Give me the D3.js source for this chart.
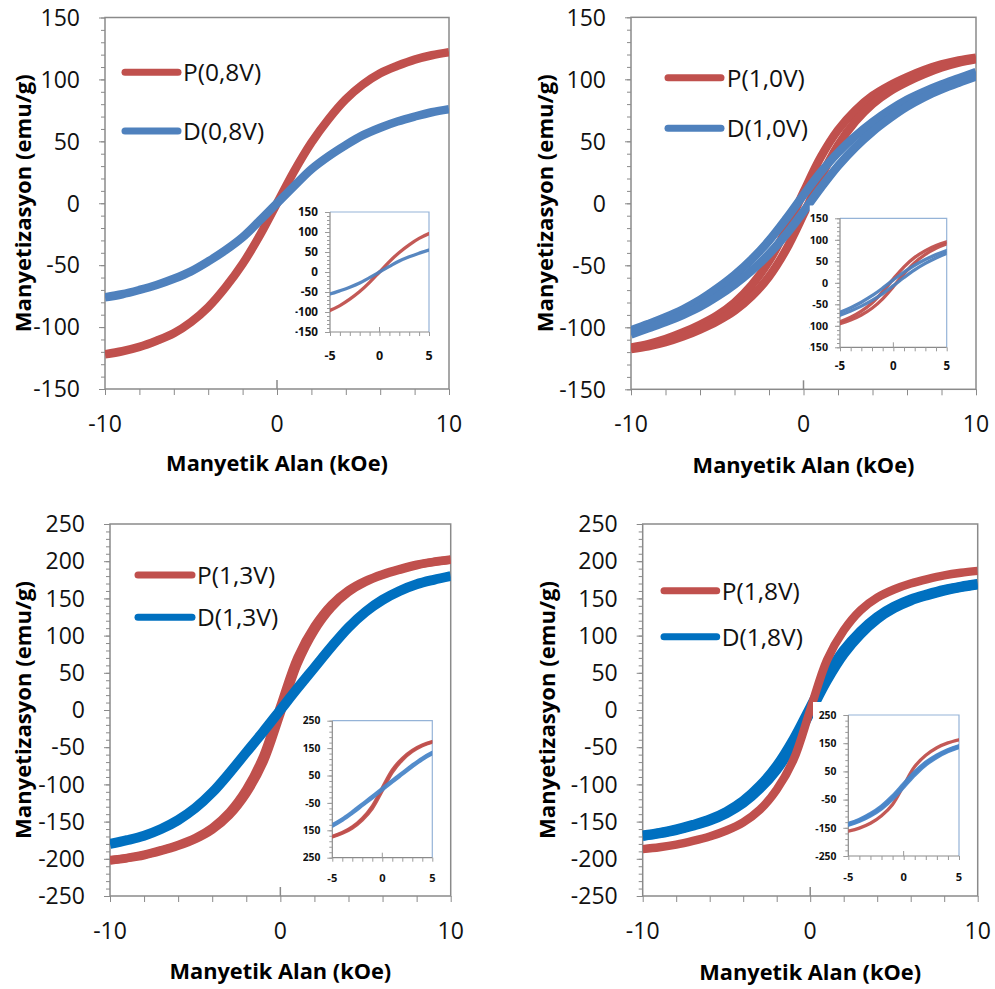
<!DOCTYPE html>
<html>
<head>
<meta charset="utf-8">
<script src="https://cdn.jsdelivr.net/npm/d3@7/dist/d3.min.js"></script>
<style>
  body { margin: 0; background: #fff; }
</style>
</head>
<body>
<div id="chart"></div>
<script>
// ---- data: field values (kOe) shared by every curve ----
const field = [-10, -9, -8, -7, -6, -5, -4, -3, -2, -1, 0, 1, 2, 3, 4, 5, 6, 7, 8, 9, 10];

// 0,8V (no visible loop)
const p08 = [-122, -119.5, -116, -111, -105, -96, -84, -68, -49, -26, 0, 26, 49, 68, 84, 96, 105, 111, 116, 119.5, 122];
const d08 = [-76, -73.5, -70, -66, -61, -55, -47, -38, -27.5, -14, 0, 14, 27.5, 38, 47, 55, 61, 66, 70, 73.5, 76];

// 1,0V (descending / ascending branches)
const p10Down = [-116.3, -113.5, -109.5, -104.2, -97.9, -90.3, -80.1, -65.9, -46.8, -21, 9, 37.2, 59.1, 74.9, 86.7, 95.1, 101.8, 107.5, 112, 115.3, 117.5];
const p10Up   = [-117.5, -115.3, -112, -107.5, -101.8, -95.1, -86.7, -74.9, -59.1, -37.2, -9, 21, 46.8, 65.9, 80.1, 90.3, 97.9, 104.2, 109.5, 113.5, 116.3];
const d10Down = [-102.3, -97.3, -91.9, -85.6, -77.9, -68.5, -57.8, -45.1, -30.1, -12.4, 6.7, 25, 40.9, 54.2, 65.5, 75.2, 83.5, 90.1, 95.8, 100.8, 105.8];
const d10Up   = [-105.8, -100.8, -95.8, -90.1, -83.5, -75.2, -65.5, -54.2, -40.9, -25, -6.7, 12.4, 30.1, 45.1, 57.8, 68.5, 77.9, 85.6, 91.9, 97.3, 102.3];

// 1,3V
const p13Down = [-201.8, -198.7, -194.5, -188.4, -181.3, -172, -158.4, -137.6, -106.6, -61.6, 5.4, 70.4, 112.4, 141.6, 161, 173.7, 182.6, 189.5, 195.3, 199.2, 202.2];
const p13Up   = [-202.2, -199.2, -195.3, -189.5, -182.6, -173.7, -161, -141.6, -112.4, -70.4, -5.4, 61.6, 106.6, 137.6, 158.4, 172, 181.3, 188.4, 194.5, 198.7, 201.8];
const d13 = [-180, -175, -169, -160, -148, -132, -111, -85, -57, -29, 0, 29, 57, 85, 111, 132, 148, 160, 169, 175, 180];

// 1,8V
const p18 = [-187, -184.5, -181, -176, -170, -162, -151, -134, -107, -67, 0, 67, 107, 134, 151, 162, 170, 176, 181, 184.5, 187];
const d18Down = [-168.7, -165.1, -160.5, -154.4, -147.2, -136.9, -122.4, -101.9, -75.2, -39.6, 3.4, 45.8, 80.1, 105.6, 125.1, 138.8, 148.6, 155.5, 161.4, 165.8, 169.3];
const d18Up   = [-169.3, -165.8, -161.4, -155.5, -148.6, -138.8, -125.1, -105.6, -80.1, -45.8, -3.4, 39.6, 75.2, 101.9, 122.4, 136.9, 147.2, 154.4, 160.5, 165.1, 168.7];

// tick labels
const xTickLabels = [-10, 0, 10];
const yTicks150 = [-150, -100, -50, 0, 50, 100, 150];
const yTicks250 = [-250, -200, -150, -100, -50, 0, 50, 100, 150, 200, 250];
const insetTicks150 = [-150, -100, -50, 0, 50, 100, 150];
const insetTicks250 = [-250, -150, -50, 50, 150, 250];
const insetXTicks = [-5, 0, 5];

const RED = '#C0504D';
const AXIS = '#8a8a8a';

const panels = [
  { series: [{ name: 'P(0,8V)', color: RED, branches: [p08] },
             { name: 'D(0,8V)', color: '#4F81BD', inColor: '#4F81BD', branches: [d08] }],
    yDomain: [-150, 150], yTicks: yTicks150, inTicks: insetTicks150, inMinor: 10,
    box: { l: 105, r: 449, t: 17.5, b: 389 },
    inset: { l: 330, r: 429, t: 212, b: 332, clipL: 295.5, fs: 11.7, xly: 355 },
    legend: { x1: 125, x2: 178, ys: [72.3, 131], tx: 183 },
    yTitleX: 23, xTitleY: 463, redOnTop: false },
  { series: [{ name: 'P(1,0V)', color: RED, branches: [p10Down, p10Up] },
             { name: 'D(1,0V)', color: '#4F81BD', inColor: '#4F81BD', branches: [d10Down, d10Up] }],
    yDomain: [-150, 150], yTicks: yTicks150, inTicks: insetTicks150, inMinor: 10,
    box: { l: 631, r: 976, t: 17.3, b: 389.3 },
    inset: { l: 840, r: 946.7, t: 218.3, b: 347.3, clipL: 809.5, fs: 10.7, xly: 366 },
    legend: { x1: 668, x2: 721, ys: [77.7, 128.3], tx: 726.7 },
    yTitleX: 545, xTitleY: 465, redOnTop: false },
  { series: [{ name: 'P(1,3V)', color: RED, branches: [p13Down, p13Up] },
             { name: 'D(1,3V)', color: '#0070C0', inColor: '#4A86C8', branches: [d13] }],
    yDomain: [-250, 250], yTicks: yTicks250, inTicks: insetTicks250, inMinor: 20,
    box: { l: 110, r: 450.7, t: 524, b: 896 },
    inset: { l: 332.3, r: 432.3, t: 720.7, b: 857.7, clipL: 303, fs: 10.3, xly: 878 },
    legend: { x1: 138, x2: 192, ys: [575, 617.3], tx: 197 },
    yTitleX: 23, xTitleY: 971, redOnTop: false },
  { series: [{ name: 'P(1,8V)', color: RED, branches: [p18] },
             { name: 'D(1,8V)', color: '#0070C0', inColor: '#4A86C8', branches: [d18Down, d18Up] }],
    yDomain: [-250, 250], yTicks: yTicks250, inTicks: insetTicks250, inMinor: 20,
    box: { l: 642.7, r: 977.7, t: 524, b: 896 },
    inset: { l: 848.3, r: 959, t: 715, b: 856, clipL: 813, fs: 10.3, xly: 877 },
    legend: { x1: 664, x2: 716.7, ys: [590.7, 636.7], tx: 721.7 },
    yTitleX: 547, xTitleY: 972, redOnTop: true }
];

const svg = d3.select('#chart').append('svg')
  .attr('width', 995)
  .attr('height', 989)
  .style('font-family', '"Open Sans", sans-serif');

const defs = svg.append('defs');

// stretch/shrink a text so its rendered length matches target
function fit(sel, target) {
  const len = sel.node().getComputedTextLength();
  const fs = parseFloat(sel.attr('font-size'));
  sel.attr('font-size', fs * target / len);
}

panels.forEach(function (p, k) {
  const g = svg.append('g');
  const b = p.box;
  const x = d3.scaleLinear().domain([-10, 10]).range([b.l, b.r]);
  const y = d3.scaleLinear().domain(p.yDomain).range([b.b, b.t]);

  defs.append('clipPath').attr('id', 'main' + k)
    .append('rect').attr('x', b.l).attr('y', b.t).attr('width', b.r - b.l).attr('height', b.b - b.t);

  // plot frame
  g.append('rect')
    .attr('x', b.l).attr('y', b.t).attr('width', b.r - b.l).attr('height', b.b - b.t)
    .attr('fill', 'none').attr('stroke', AXIS).attr('stroke-width', 1.5);

  // y minor + major ticks
  g.append('g').attr('transform', 'translate(' + b.l + ',0)')
    .call(d3.axisLeft(y).tickValues(d3.range(p.yDomain[0], p.yDomain[1] + 1, 10)).tickSize(4).tickFormat(''))
    .call(a => a.select('.domain').remove())
    .selectAll('line').attr('stroke', AXIS);
  g.append('g').attr('transform', 'translate(' + b.l + ',0)')
    .call(d3.axisLeft(y).tickValues(p.yTicks).tickSize(6).tickFormat(''))
    .call(a => a.select('.domain').remove())
    .selectAll('line').attr('stroke', AXIS);

  // x ticks every 2 kOe, crossing tick at 0
  g.append('g').attr('transform', 'translate(0,' + b.b + ')')
    .call(d3.axisBottom(x).tickValues(d3.range(-10, 11, 2)).tickSize(6).tickFormat(''))
    .call(a => a.select('.domain').remove())
    .selectAll('line').attr('stroke', AXIS);
  g.append('line')
    .attr('x1', x(0)).attr('x2', x(0)).attr('y1', b.b - 9).attr('y2', b.b)
    .attr('stroke', AXIS).attr('stroke-width', 1.5);

  // tick labels
  g.selectAll('.ylab').data(p.yTicks).enter().append('text')
    .attr('x', b.l - 25).attr('y', d => y(d))
    .attr('dy', '0.36em').attr('text-anchor', 'end')
    .attr('font-size', 23).attr('fill', '#111')
    .text(d => d);
  g.selectAll('.xlab').data(xTickLabels).enter().append('text')
    .attr('x', d => x(d)).attr('y', b.b + 34.5)
    .attr('dy', '0.36em').attr('text-anchor', 'middle')
    .attr('font-size', 23).attr('fill', '#111')
    .text(d => d);

  // axis titles
  const yt = g.append('text')
    .attr('transform', 'translate(' + p.yTitleX + ',' + (b.t + b.b) / 2 + ') rotate(-90)')
    .attr('dy', '0.36em').attr('text-anchor', 'middle')
    .attr('font-size', 19).attr('font-weight', 700)
    .text('Manyetizasyon (emu/g)');
  fit(yt, 258);
  const xt = g.append('text')
    .attr('x', (b.l + b.r) / 2).attr('y', p.xTitleY)
    .attr('dy', '0.36em').attr('text-anchor', 'middle')
    .attr('font-size', 19).attr('font-weight', 700)
    .text('Manyetik Alan (kOe)');
  fit(xt, 222);

  // main curves
  const line = d3.line()
    .x((d, i) => x(field[i]))
    .y(d => y(d))
    .curve(d3.curveCatmullRom.alpha(0.5));
  const curves = g.append('g').attr('clip-path', 'url(#main' + k + ')');
  const order = p.redOnTop ? [1, 0] : [0, 1];
  order.forEach(function (j) {
    const s = p.series[j];
    s.branches.forEach(function (br) {
      curves.append('path')
        .attr('d', line(br))
        .attr('fill', 'none')
        .attr('stroke', s.color)
        .attr('stroke-width', j === 1 && k >= 2 ? 10 : 8.5);
    });
  });

  // legend
  p.series.forEach(function (s, j) {
    g.append('line')
      .attr('x1', p.legend.x1).attr('x2', p.legend.x2)
      .attr('y1', p.legend.ys[j]).attr('y2', p.legend.ys[j])
      .attr('stroke', s.color).attr('stroke-width', 7).attr('stroke-linecap', 'round');
    g.append('text')
      .attr('x', p.legend.tx).attr('y', p.legend.ys[j])
      .attr('dy', '0.36em').attr('font-size', 24.5).attr('fill', '#111')
      .text(s.name);
  });

  // ---- inset ----
  const n = p.inset;
  const xi = d3.scaleLinear().domain([-5, 5]).range([n.l, n.r]);
  const yi = d3.scaleLinear().domain(p.yDomain).range([n.b, n.t]);

  defs.append('clipPath').attr('id', 'inbox' + k)
    .append('rect').attr('x', n.clipL).attr('y', n.t - 13)
    .attr('width', n.r + 8 - n.clipL).attr('height', n.b - n.t + 45);
  defs.append('clipPath').attr('id', 'inplot' + k)
    .append('rect').attr('x', n.l).attr('y', n.t).attr('width', n.r - n.l).attr('height', n.b - n.t);

  const ig = g.append('g').attr('clip-path', 'url(#inbox' + k + ')');
  ig.append('rect')
    .attr('x', n.clipL).attr('y', n.t - 13)
    .attr('width', n.r + 8 - n.clipL).attr('height', n.b - n.t + 45)
    .attr('fill', '#fff');

  // inset frame: blue top/right, grey left/bottom
  ig.append('path')
    .attr('d', 'M' + n.l + ',' + n.t + 'H' + n.r + 'V' + n.b)
    .attr('fill', 'none').attr('stroke', '#95B3D7').attr('stroke-width', 1.2);
  ig.append('path')
    .attr('d', 'M' + n.l + ',' + n.t + 'V' + n.b + 'H' + n.r)
    .attr('fill', 'none').attr('stroke', AXIS).attr('stroke-width', 1.2);

  ig.append('g').attr('transform', 'translate(' + n.l + ',0)')
    .call(d3.axisLeft(yi).tickValues(d3.range(p.yDomain[0], p.yDomain[1] + 1, p.inMinor)).tickSize(3).tickFormat(''))
    .call(a => a.select('.domain').remove())
    .selectAll('line').attr('stroke', '#9a9a9a');
  ig.append('g').attr('transform', 'translate(' + n.l + ',0)')
    .call(d3.axisLeft(yi).tickValues(p.inTicks).tickSize(5).tickFormat(''))
    .call(a => a.select('.domain').remove())
    .selectAll('line').attr('stroke', '#9a9a9a');
  ig.append('g').attr('transform', 'translate(0,' + n.b + ')')
    .call(d3.axisBottom(xi).tickValues(d3.range(-5, 6, 1)).tickSize(4).tickFormat(''))
    .call(a => a.select('.domain').remove())
    .selectAll('line').attr('stroke', '#9a9a9a');
  ig.append('line')
    .attr('x1', xi(0)).attr('x2', xi(0)).attr('y1', n.b - 5).attr('y2', n.b)
    .attr('stroke', '#9a9a9a');

  ig.selectAll('.iyl').data(p.inTicks).enter().append('text')
    .attr('x', n.l - 12).attr('y', d => yi(d))
    .attr('dy', '0.36em').attr('text-anchor', 'end')
    .attr('font-size', n.fs).attr('font-weight', 700).attr('fill', '#111')
    .text(d => d);
  ig.selectAll('.ixl').data(insetXTicks).enter().append('text')
    .attr('x', d => xi(d)).attr('y', n.xly)
    .attr('dy', '0.36em').attr('text-anchor', 'middle')
    .attr('font-size', n.fs + 0.8).attr('font-weight', 700).attr('fill', '#111')
    .text(d => d);

  const iline = d3.line()
    .x((d, i) => xi(field[i]))
    .y(d => yi(d))
    .curve(d3.curveCatmullRom.alpha(0.5));
  const icurves = ig.append('g').attr('clip-path', 'url(#inplot' + k + ')');
  p.series.forEach(function (s, j) {
    s.branches.forEach(function (br) {
      icurves.append('path')
        .attr('d', iline(br))
        .attr('fill', 'none')
        .attr('stroke', j === 0 ? s.color : s.inColor)
        .attr('stroke-opacity', 0.95)
        .attr('stroke-width', j === 1 && k >= 2 ? 4.5 : 3.3);
    });
  });
});
</script>
</body>
</html>
